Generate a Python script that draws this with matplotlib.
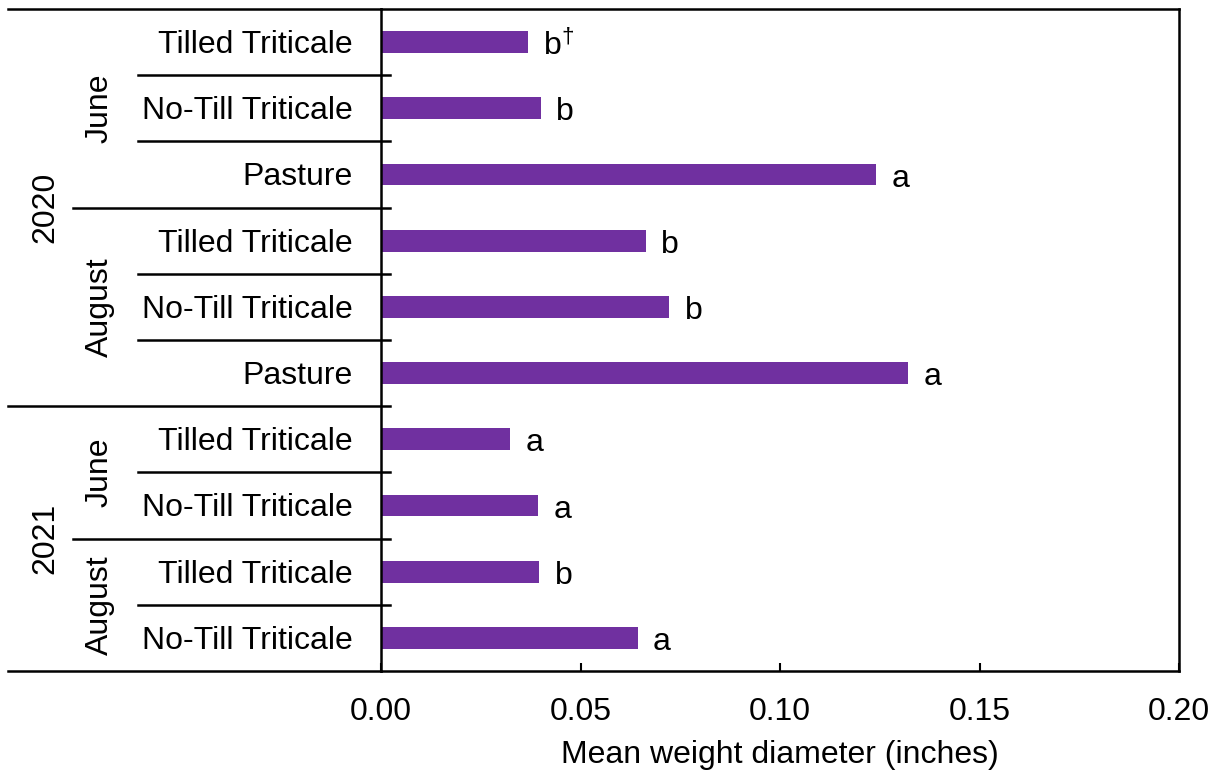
import matplotlib
matplotlib.use('Agg')
import matplotlib.pyplot as plt
import numpy as np

plt.rcParams['font.family'] = ['Liberation Sans', 'DejaVu Sans']
plt.rcParams['mathtext.fontset'] = 'custom'
plt.rcParams['mathtext.rm'] = 'Liberation Sans'
plt.rcParams['mathtext.it'] = 'Liberation Sans'

# data, top to bottom
categories = ["Tilled Triticale", "No-Till Triticale", "Pasture",
              "Tilled Triticale", "No-Till Triticale", "Pasture",
              "Tilled Triticale", "No-Till Triticale",
              "Tilled Triticale", "No-Till Triticale"]
mwd = [0.0365, 0.0398, 0.1238, 0.0660, 0.0720, 0.1318,
       0.0320, 0.0390, 0.0393, 0.0640]
letters = [r"b$^{\dagger}$", "b", "a", "b", "b", "a", "a", "a", "b", "a"]
months = ["June", "August", "June", "August"]
month_sizes = [3, 3, 2, 2]
years = ["2020", "2021"]
year_sizes = [6, 4]

bar_color = '#7030A0'
fs = 23

fig = plt.figure(figsize=(12.19, 7.71), dpi=100)
W, H = 1219, 771
x0, x1, y0, y1 = 381, 1179, 9, 671
ax = fig.add_axes([x0 / W, 1 - y1 / H, (x1 - x0) / W, (y1 - y0) / H])

n = len(categories)
ypos = np.arange(n) + 0.5
ax.barh(ypos, mwd, height=0.33, color=bar_color, left=0.0003)
ax.set_ylim(n, 0)
ax.set_xlim(0, 0.2)

for y, v, lab in zip(ypos, mwd, letters):
    ax.annotate(lab, (v, y), xytext=(12, -3), textcoords='offset points',
                ha='left', va='center', fontsize=fs)

for s in ax.spines.values():
    s.set_linewidth(1.8)
    s.set_color('black')

ax.set_yticks([])
ax.set_xticks([0, 0.05, 0.1, 0.15, 0.2])
ax.set_xticklabels(["0.00", "0.05", "0.10", "0.15", "0.20"])
ax.tick_params(axis='x', direction='in', length=6, width=1.5,
               labelsize=fs, pad=19)
ax.set_xlabel("Mean weight diameter (inches)", fontsize=fs, labelpad=9)

# left hierarchical axis
def ax_x(px):
    return (px - x0) / (x1 - x0)

tr = ax.get_yaxis_transform()
lw = 1.8
x_cat, x_month, x_year, x_end = ax_x(138), ax_x(73), ax_x(8), ax_x(390)

# category labels
for y, c in zip(ypos, categories):
    ax.text(ax_x(353), y + 0.045, c, transform=tr, ha='right', va='center', fontsize=fs)

# row separators
month_edges = np.cumsum([0] + month_sizes)
year_edges = np.cumsum([0] + year_sizes)
for b in range(1, n):
    if b in year_edges:
        xs = x_year
    elif b in month_edges:
        xs = x_month
    else:
        xs = x_cat
    ax.plot([xs, x_end], [b, b], transform=tr, color='black', lw=lw, clip_on=False)

ax.plot([x_year, 0], [0, 0], transform=tr, color='black', lw=lw, clip_on=False)
ax.plot([x_year, 0], [n, n], transform=tr, color='black', lw=lw, clip_on=False)

# month labels
for m, a, b in zip(months, month_edges[:-1], month_edges[1:]):
    ax.text(ax_x(100), (a + b) / 2, m, transform=tr, rotation=90,
            ha='center', va='center', fontsize=fs)

# year labels
for yr, a, b in zip(years, year_edges[:-1], year_edges[1:]):
    ax.text(ax_x(45), (a + b) / 2, yr, transform=tr, rotation=90,
            ha='center', va='center', fontsize=fs)

plt.savefig("out.png", dpi=100)
plt.close(fig)
